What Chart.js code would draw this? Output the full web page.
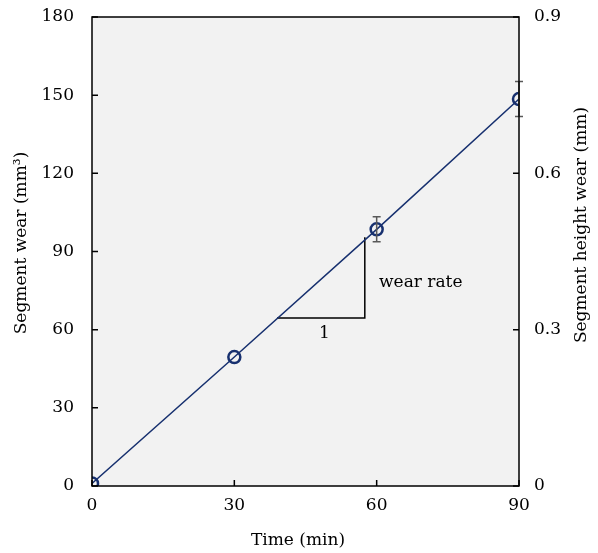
<!DOCTYPE html>
<html>
<head>
<meta charset="utf-8">
<script src="https://cdn.jsdelivr.net/npm/chart.js@4"></script>
<style>
  body { margin: 0; background: #fff; }
  #wrap { width: 598px; height: 553px; }
</style>
</head>
<body>
<div id="wrap"><canvas id="chart"></canvas></div>
<script>
// data
var times = [0, 30, 60, 90];
var wear = [1, 49.5, 98.5, 148.5];
var wearErr = [0, 0, 4.8, 6.7];
var xTicks = [0, 30, 60, 90];
var leftTicks = [0, 30, 60, 90, 120, 150, 180];
var rightTicks = [0, 0.3, 0.6, 0.9];
// slope triangle (in data units)
var triX = [39, 57.5, 57.5];
var triY = [64.5, 64.5, 95.5];

var FONT = "'DejaVu Serif', serif";
var navy = "#17306f";

var wearPts = times.map(function (t, i) { return { x: t, y: wear[i] }; });
var triPts = triX.map(function (t, i) { return { x: t, y: triY[i] }; });

// plot background, frame, inward ticks, error bars, labels, axis titles
var decor = {
  id: "decor",
  beforeDraw: function (chart) {
    var a = chart.chartArea, c = chart.ctx;
    c.save();
    c.fillStyle = "#f2f2f2";
    c.fillRect(a.left, a.top, a.right - a.left, a.bottom - a.top);
    c.restore();
  },
  afterDatasetsDraw: function (chart) {
    var a = chart.chartArea, c = chart.ctx;
    var sx = chart.scales.x, sy = chart.scales.y, sy2 = chart.scales.y2;
    c.save();
    // error bars
    c.strokeStyle = "#595959";
    c.lineWidth = 1.5;
    times.forEach(function (t, i) {
      if (!wearErr[i]) return;
      var px = sx.getPixelForValue(t);
      var top = sy.getPixelForValue(wear[i] + wearErr[i]);
      var bot = sy.getPixelForValue(wear[i] - wearErr[i]);
      c.beginPath();
      c.moveTo(px, top); c.lineTo(px, bot);
      c.moveTo(px - 4, top); c.lineTo(px + 4, top);
      c.moveTo(px - 4, bot); c.lineTo(px + 4, bot);
      c.stroke();
    });
    // frame
    c.strokeStyle = "#000";
    c.lineWidth = 1.5;
    c.strokeRect(a.left, a.top, a.right - a.left, a.bottom - a.top);
    // inward ticks
    c.beginPath();
    xTicks.forEach(function (v) {
      var px = sx.getPixelForValue(v);
      c.moveTo(px, a.bottom); c.lineTo(px, a.bottom - 6);
    });
    leftTicks.forEach(function (v) {
      var py = sy.getPixelForValue(v);
      c.moveTo(a.left, py); c.lineTo(a.left + 6, py);
    });
    rightTicks.forEach(function (v) {
      var py = sy2.getPixelForValue(v);
      c.moveTo(a.right, py); c.lineTo(a.right - 6, py);
    });
    c.stroke();
    // annotation text
    c.fillStyle = "#000";
    c.font = "17px " + FONT;
    c.textAlign = "center";
    c.textBaseline = "middle";
    c.fillText("1", sx.getPixelForValue(49), sy.getPixelForValue(58.5));
    c.textAlign = "left";
    c.fillText("wear rate", sx.getPixelForValue(60.5), sy.getPixelForValue(78));
    // axis titles
    c.textAlign = "center";
    c.fillText("Time (min)", 298, 541);
    c.save();
    c.translate(22, 243);
    c.rotate(-Math.PI / 2);
    c.fillText("Segment wear (mm\u00b3)", 0, 0);
    c.restore();
    c.save();
    c.translate(582, 225);
    c.rotate(-Math.PI / 2);
    c.fillText("Segment height wear (mm)", 0, 0);
    c.restore();
    c.restore();
  }
};

var tickFont = { family: FONT, size: 17 };

function noPad(s) {
  s.paddingTop = 0; s.paddingBottom = 0;
  s.paddingLeft = 0; s.paddingRight = 0;
}

new Chart(document.getElementById("chart"), {
  type: "scatter",
  data: {
    datasets: [
      {
        data: wearPts,
        showLine: true,
        borderColor: navy,
        borderWidth: 1.5,
        pointRadius: 6,
        pointBorderWidth: 2.5,
        pointBorderColor: navy,
        pointBackgroundColor: "rgba(0,0,0,0)",
        yAxisID: "y",
      },
      {
        data: triPts,
        showLine: true,
        borderColor: "#000",
        borderWidth: 1.5,
        pointRadius: 0,
        yAxisID: "y",
      },
    ],
  },
  options: {
    responsive: true,
    maintainAspectRatio: false,
    animation: false,
    layout: { padding: { top: 17, left: 0, right: 0, bottom: 0 } },
    plugins: { legend: { display: false }, tooltip: { enabled: false } },
    scales: {
      x: {
        type: "linear",
        min: 0, max: 90,
        afterBuildTicks: function (s) { s.ticks = xTicks.map(function (v) { return { value: v }; }); },
        afterFit: function (s) { s.height = 67; noPad(s); },
        grid: { display: false, drawTicks: false },
        border: { display: false },
        ticks: { color: "#000", font: tickFont, padding: 9, maxRotation: 0 },
      },
      y: {
        position: "left",
        min: 0, max: 180,
        afterBuildTicks: function (s) { s.ticks = leftTicks.map(function (v) { return { value: v }; }); },
        afterFit: function (s) { s.width = 92; noPad(s); },
        grid: { display: false, drawTicks: false },
        border: { display: false },
        ticks: { color: "#000", font: tickFont, padding: 18 },
      },
      y2: {
        position: "right",
        min: 0, max: 0.9,
        afterBuildTicks: function (s) { s.ticks = rightTicks.map(function (v) { return { value: v }; }); },
        afterFit: function (s) { s.width = 79; noPad(s); },
        grid: { display: false, drawTicks: false },
        border: { display: false },
        ticks: {
          color: "#000", font: tickFont, padding: 15,
          callback: function (v) { return v === 0 ? "0" : v.toFixed(1); },
        },
      },
    },
  },
  plugins: [decor],
});
</script>
</body>
</html>
